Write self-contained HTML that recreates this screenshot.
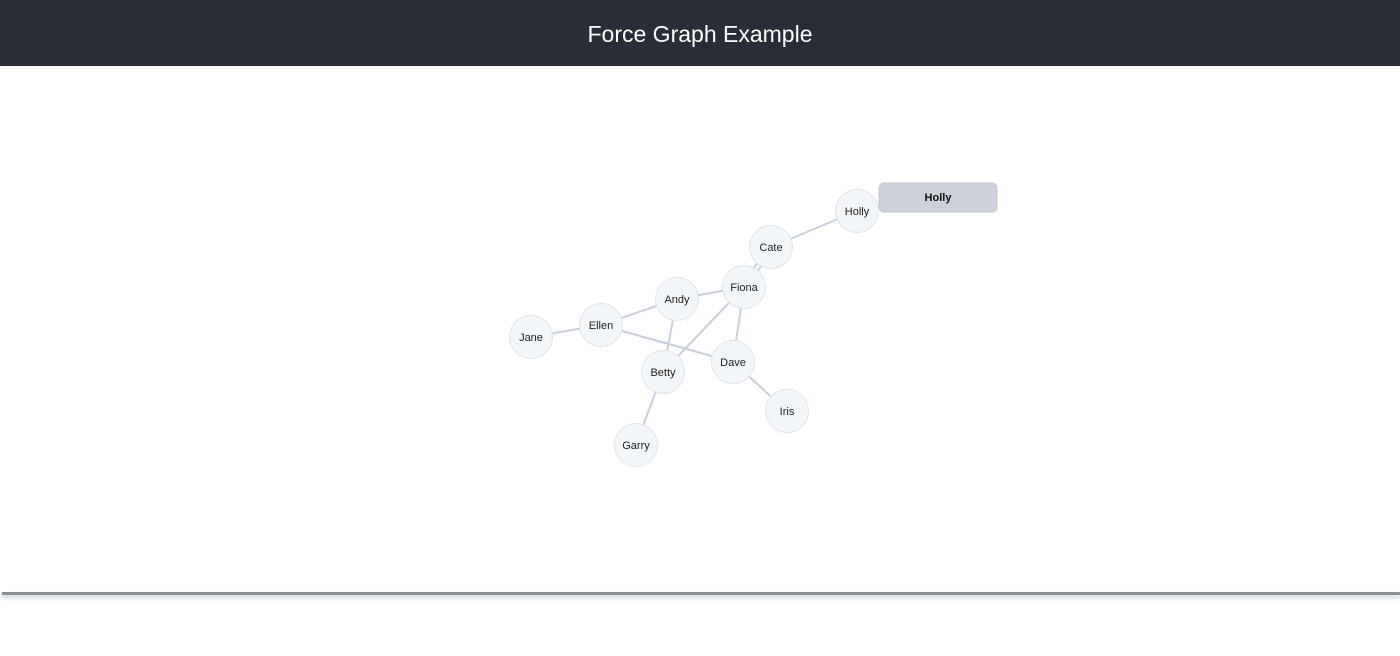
<!DOCTYPE html>
<html><head><style>
body{margin:0;width:1400px;height:656px;background:#fff;overflow:hidden;font-family:"Liberation Sans",sans-serif}
.hdr{position:absolute;left:0;top:0;width:1400px;height:66px;background:#292d38;color:#fff;font-size:23px;text-align:center;line-height:68px}
.bar{position:absolute;left:2px;top:592px;width:1398px;height:3px;background:#8a8e95;box-shadow:0 3px 4px #c7ccd4}
</style></head><body>
<div class="hdr">Force Graph Example</div>
<svg width="1400" height="656" style="position:absolute;left:0;top:0">
<g stroke="#c8d0dc" stroke-width="2">
<line x1="857" y1="211" x2="771" y2="247"/>
<line x1="768" y1="247" x2="741" y2="287"/>
<line x1="774" y1="247" x2="747" y2="287"/>
<line x1="744" y1="287" x2="677" y2="299"/>
<line x1="677" y1="299" x2="601" y2="325"/>
<line x1="601" y1="325" x2="531" y2="337"/>
<line x1="601" y1="325" x2="733" y2="362"/>
<line x1="677" y1="299" x2="663" y2="372"/>
<line x1="744" y1="287" x2="663" y2="372"/>
<line x1="744" y1="287" x2="733" y2="362"/>
<line x1="733" y1="362" x2="787" y2="411"/>
<line x1="663" y1="372" x2="636" y2="445"/>
</g>
<g fill="#f3f6f9" stroke="#dde3ea" stroke-width="1" font-size="11" text-anchor="middle">
<circle cx="857" cy="211" r="21.5"/><circle cx="771" cy="247" r="21.5"/><circle cx="744" cy="287" r="21.5"/>
<circle cx="677" cy="299" r="21.5"/><circle cx="601" cy="325" r="21.5"/><circle cx="531" cy="337" r="21.5"/>
<circle cx="663" cy="372" r="21.5"/><circle cx="733" cy="362" r="21.5"/><circle cx="787" cy="411" r="21.5"/>
<circle cx="636" cy="445" r="21.5"/>
</g>
<g fill="#222" font-size="11" text-anchor="middle" font-family="Liberation Sans">
<text x="857" y="215">Holly</text><text x="771" y="251">Cate</text><text x="744" y="291">Fiona</text>
<text x="677" y="303">Andy</text><text x="601" y="329">Ellen</text><text x="531" y="341">Jane</text>
<text x="663" y="376">Betty</text><text x="733" y="366">Dave</text><text x="787" y="415">Iris</text>
<text x="636" y="449">Garry</text>
</g>
<rect x="879" y="183" width="118" height="29" rx="5" fill="#cdd2da" stroke="#c0c6cf"/>
<text x="938" y="201" text-anchor="middle" font-size="11" font-weight="bold" fill="#111">Holly</text>
</svg>
<div class="bar"></div>
</body></html>
